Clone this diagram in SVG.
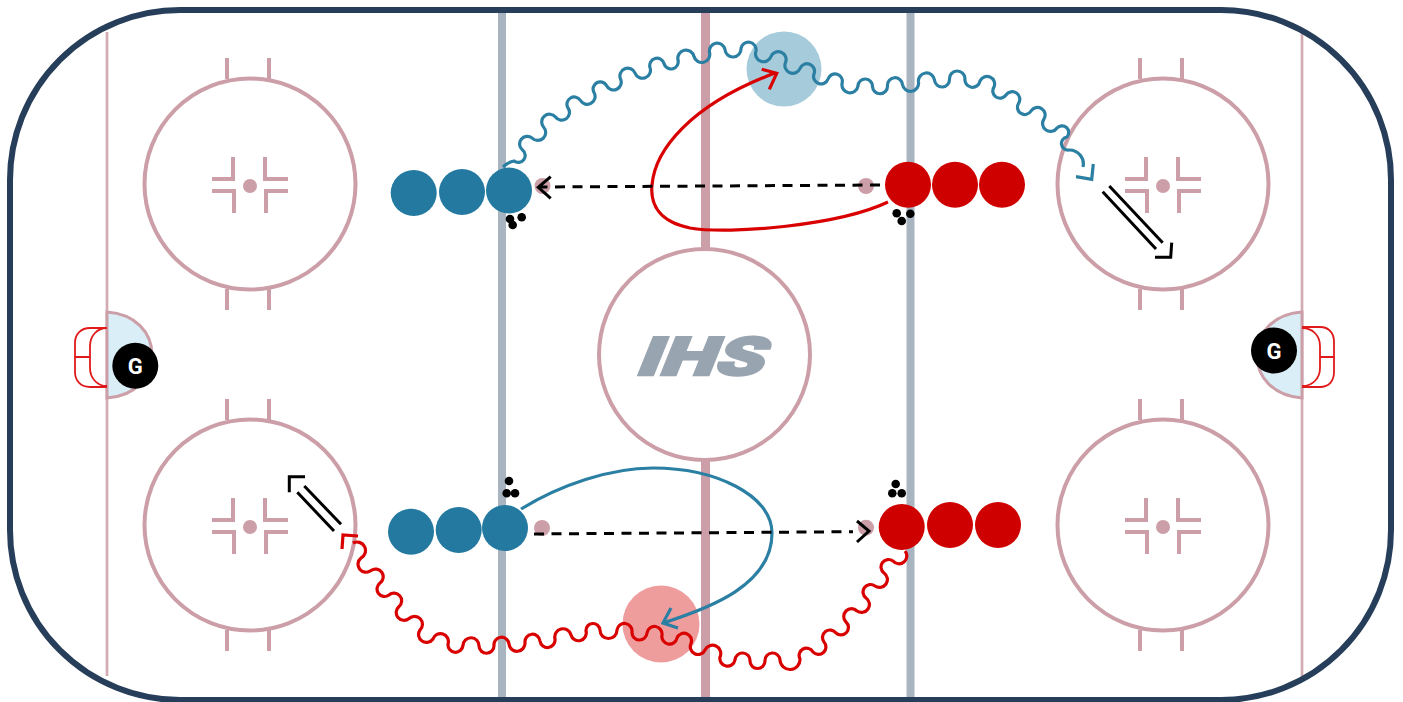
<svg xmlns="http://www.w3.org/2000/svg" xmlns:xlink="http://www.w3.org/1999/xlink" width="1403" height="702" viewBox="0 0 1403 702">
<style>
.rm{fill:none;stroke:#cc9fa8;stroke-width:4}
.thin{fill:none;stroke:#d3abb3;stroke-width:2.700}
.blueline{stroke:#a8b4bf;stroke-width:8}
.dot{fill:#cc9fa8}
.crease{fill:#d9eef7;stroke:#cc9fa8;stroke-width:3}
.net{fill:none;stroke:#e01a1a;stroke-width:1.8}
.goalie{fill:#000}
.gt{fill:#fff;font-family:Roboto,"Liberation Sans",sans-serif;font-weight:700;font-size:22px;text-anchor:middle}
.b{fill:#23799f}
.r{fill:#cf0000}
.puck{fill:#000}
.wb{fill:none;stroke:#2a7fa3;stroke-width:3.200}
.wr{fill:none;stroke:#d90000;stroke-width:3.200}
.pass{fill:none;stroke:#000;stroke-width:3;stroke-dasharray:10 7.5}
.ch{fill:none;stroke:#000;stroke-width:3}
.shot{fill:none;stroke:#000;stroke-width:3}
</style>
<defs>
<g id="fc">
<circle class="rm" cx="0" cy="0" r="105.500"/>
<path class="rm" d="M-23 -126V-105M19 -126V-105M-23 105V126M19 105V126"/>
<path class="rm" d="M-38 -5H-17V-27M-38 7H-16V29M38 -5H15V-27M38 7H16V29"/>
<circle class="dot" cx="0" cy="2" r="7"/>
</g>
</defs>
<rect width="1403" height="702" fill="#fff"/>
<g id="rink">
<line class="blueline" x1="502" y1="10" x2="502" y2="699"/>
<line class="blueline" x1="910.500" y1="10" x2="910.500" y2="699"/>
<line x1="705.500" y1="10" x2="705.500" y2="699" stroke="#cc9fa8" stroke-width="9"/>
<path class="thin" d="M107 32V676M1302 32V676"/>
<use xlink:href="#fc" href="#fc" x="250" y="184"/>
<use xlink:href="#fc" href="#fc" x="1163" y="184"/>
<use xlink:href="#fc" href="#fc" x="250" y="525"/>
<use xlink:href="#fc" href="#fc" x="1163" y="525"/>
<circle cx="704.500" cy="354.500" r="105.500" fill="#fff" stroke="#cc9fa8" stroke-width="4"/>
<text transform="translate(634 375) skewX(-22)" x="0" y="0" font-family="Roboto,'Liberation Sans',sans-serif" font-weight="900" font-size="53" fill="#98a4b0" stroke="#98a4b0" stroke-width="2.500" textLength="127" lengthAdjust="spacingAndGlyphs">IHS</text>
<path class="crease" d="M107 312C135 314 152 332 152 355C152 378 135 396 107 398Z"/>
<path class="crease" d="M1302 312C1274 314 1257 332 1257 355C1257 378 1274 396 1302 398Z"/>
<path class="net" d="M107 328H90C81 328 75 334 75 343V372C75 381 81 387 90 387H107M107 328C97 328 90 336 90 346V368C90 378 97 386 107 386M75 357H90"/>
<path class="net" d="M1302 327H1320C1329 327 1334 333 1334 342V372C1334 381 1329 387 1320 387H1302M1302 328C1313 328 1320 336 1320 346V368C1320 378 1313 386 1302 386M1334 357H1320"/>
<rect x="10" y="10" width="1381" height="690" rx="170" ry="170" fill="none" stroke="#263e5a" stroke-width="6"/>
</g>
<g id="zones">
<circle cx="784" cy="69" r="37.500" fill="#a6cbdb"/>
<circle cx="661" cy="624" r="38.500" fill="#ee9c9c"/>
</g>
<g id="connectors">
<path class="wb" d="M503 167Q508 162 514 161A1 1 0 0 0 522.500 150A1 1 0 0 1 532 138A1 1 0 0 0 543.500 127A1 1 0 0 1 555.500 117A1 1 0 0 0 568 108A1 1 0 0 1 580.500 100.500A1 1 0 0 0 594 92.500A1 1 0 0 1 606.500 85.500A1 1 0 0 0 620.500 79A1 1 0 0 1 635 73A1 1 0 0 0 650 67.500A1 1 0 0 1 664 63.500A1 1 0 0 0 678 60A1 1 0 0 1 694 56.500A1 1 0 0 0 709.500 52.500A1 1 0 0 1 725 49.500A1 1 0 0 0 741 48.500A1 1 0 0 1 756 51A1 1 0 0 0 771 56.500A1 1 0 0 1 785.500 62.500A1 1 0 0 0 800 68.500A1 1 0 0 1 814 74A1 1 0 0 0 828 79A1 1 0 0 1 842 83.500A1 1 0 0 0 858 86A1 1 0 0 1 872.500 86.500A1 1 0 0 0 887.500 86A1 1 0 0 1 902.500 84.500A1 1 0 0 0 918.500 82A1 1 0 0 1 934.500 80A1 1 0 0 0 949.500 79A1 1 0 0 1 965 78.500A1 1 0 0 0 980 81A1 1 0 0 1 994 87A1 1 0 0 0 1006 95A1 1 0 0 1 1018.500 103.500A1 1 0 0 0 1031 111A1 1 0 0 1 1044 119A1 1 0 0 0 1057 128A1 1 0 0 1 1067 137A1 1 0 0 0 1069 150A14 14 0 0 1 1083 167"/>
<path class="wb" d="M1076 176.700L1091.700 179.300L1093.300 164"/>
<path class="wr" d="M905 551A1 1 0 0 1 893 561A1 1 0 0 0 884 573A1 1 0 0 1 875 586A1 1 0 0 0 866 598A1 1 0 0 1 857 611A1 1 0 0 0 846 622A1 1 0 0 1 836 633A1 1 0 0 0 824 642A1 1 0 0 1 813 652A1 1 0 0 0 800 659A1 1 0 0 1 780 660A1 1 0 0 0 765 661A1 1 0 0 1 750 661A1 1 0 0 0 735 660A1 1 0 0 1 720 657A1 1 0 0 0 705 650A1 1 0 0 1 691 643.500A1 1 0 0 0 677 638A1 1 0 0 1 662 635A1 1 0 0 0 647 633A1 1 0 0 1 632 632A1 1 0 0 0 617 630A1 1 0 0 1 600 630A1 1 0 0 0 586 631A1 1 0 0 1 571 635A1 1 0 0 0 555 639A1 1 0 0 1 540 641A1 1 0 0 0 525 642.500A1 1 0 0 1 509 644A1 1 0 0 0 494 645.500A1 1 0 0 1 479 646A1 1 0 0 0 463 645.500A1 1 0 0 1 448 644A1 1 0 0 0 433 639A1 1 0 0 1 420 630A1 1 0 0 0 409 618.500A1 1 0 0 1 399 606.500A1 1 0 0 0 389 595A1 1 0 0 1 380 583A1 1 0 0 0 371 570.500A1 1 0 0 1 361 558A1 1 0 0 0 353 543"/>
<path class="wr" d="M358 536L343 535L342 549"/>
<path class="wr" d="M888 202C840 225 730 235 690 228C660 222 650 205 652 185C655 150 690 105 775 73"/>
<path class="wr" d="M761.700 69.300L776.700 73.300L769.300 89.300"/>
<path class="wb" d="M521 509C560 485 610 468 653 468C715 468 772 495 772 533C772 585 710 608 663 623"/>
<path class="wb" d="M671 608L663 623L678 628"/>
<path class="shot" d="M1109.300 186L1162.700 242.700M1102.700 191.700L1156 249M1171.700 242.700L1170.700 257.300H1155"/>
<path class="shot" d="M341 524.300L304.300 486M334 531L297.300 492.300M305 476.700H289.300V492.300"/>
</g>
<g id="pass-top">
<circle class="dot" cx="542.500" cy="186" r="8"/>
<circle class="dot" cx="866" cy="186" r="8"/>
<path class="pass" d="M880 185L540 187"/>
<path class="ch" d="M550.700 176.700L538.300 187.300L550.700 198.300"/>
</g>
<g id="pass-bottom">
<circle class="dot" cx="542" cy="528" r="8"/>
<circle class="dot" cx="866" cy="527.700" r="8"/>
<path class="pass" d="M534 534L853 531.700"/>
<path class="ch" d="M857 521L869 531L857 542"/>
</g>
<g id="team-blue-top">
<circle class="b" cx="413.700" cy="193" r="23"/>
<circle class="b" cx="462" cy="192" r="23"/>
<circle class="b" cx="509" cy="190.500" r="23"/>
<circle class="puck" cx="510" cy="219" r="4.300"/><circle class="puck" cx="521.700" cy="217.300" r="4.300"/><circle class="puck" cx="512.700" cy="225" r="4.300"/>
</g>
<g id="team-red-top">
<circle class="r" cx="908" cy="184.700" r="23"/>
<circle class="r" cx="955" cy="184.700" r="23"/>
<circle class="r" cx="1002" cy="184.700" r="23"/>
<circle class="puck" cx="896.700" cy="213.300" r="4.300"/><circle class="puck" cx="910.300" cy="213.700" r="4.300"/><circle class="puck" cx="901.700" cy="221" r="4.300"/>
</g>
<g id="team-blue-bottom">
<circle class="b" cx="411" cy="531.700" r="23"/>
<circle class="b" cx="458.700" cy="530" r="23"/>
<circle class="b" cx="505" cy="528" r="23"/>
<circle class="puck" cx="509" cy="481" r="4.300"/><circle class="puck" cx="506.700" cy="493.300" r="4.300"/><circle class="puck" cx="515" cy="493.300" r="4.300"/>
</g>
<g id="team-red-bottom">
<circle class="r" cx="901.700" cy="527" r="23"/>
<circle class="r" cx="950" cy="525" r="23"/>
<circle class="r" cx="998" cy="525" r="23"/>
<circle class="puck" cx="895.700" cy="484" r="4.300"/><circle class="puck" cx="892.300" cy="493.300" r="4.300"/><circle class="puck" cx="901.700" cy="493.300" r="4.300"/>
</g>
<g id="goalie-left">
<circle class="goalie" cx="135.300" cy="365.700" r="23"/>
<text class="gt" x="135.300" y="373.500">G</text>
</g>
<g id="goalie-right">
<circle class="goalie" cx="1274" cy="350.500" r="23"/>
<text class="gt" x="1274" y="358.500">G</text>
</g>
</svg>
